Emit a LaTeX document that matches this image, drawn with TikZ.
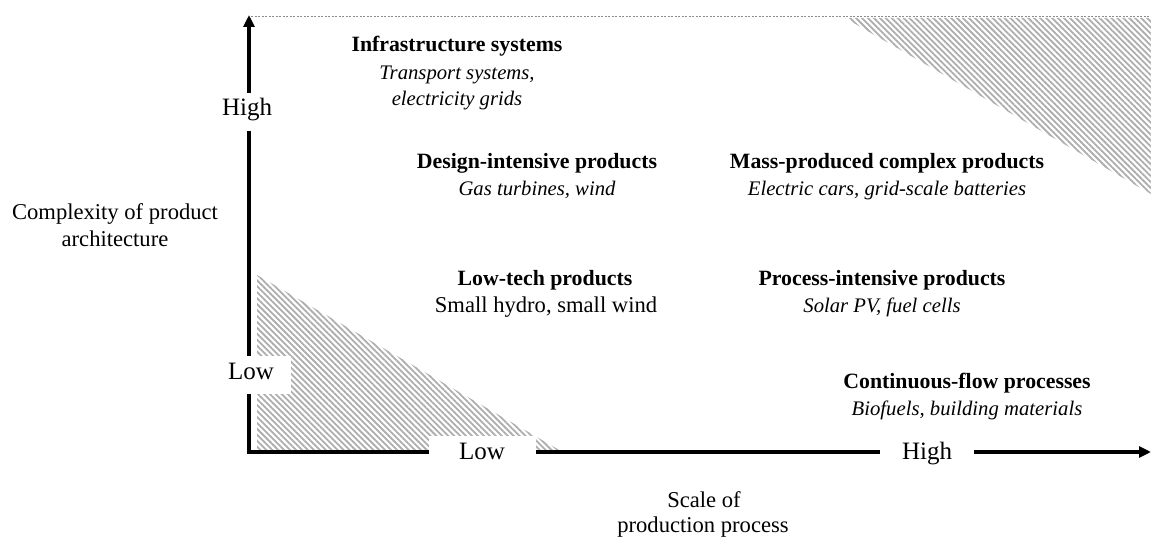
\documentclass[tikz,border=0pt]{standalone}
\usepackage{fontspec}
\setmainfont{Liberation Serif}
\usetikzlibrary{patterns.meta,arrows.meta}
\begin{document}
\begin{tikzpicture}[x=1pt,y=-1pt,
  hatch/.style={pattern={Lines[angle=-45,distance=4.2pt,line width=1.8pt]},pattern color=black!32},
  axis/.style={line width=4pt,line join=miter,{Triangle[length=12pt,width=11pt]}-{Triangle[length=12pt,width=11pt]}},
  axlab/.style={anchor=base,fill=white,font=\fontsize{25}{28}\selectfont,inner xsep=0pt,inner ysep=0pt,text height=23pt,text depth=15pt},
  ttl/.style={anchor=base,font=\fontsize{22.6}{27}\selectfont},
  head/.style={anchor=base,font=\bfseries\fontsize{21.8}{27}\selectfont},
  ex/.style={anchor=base,font=\itshape\fontsize{20.7}{27}\selectfont},
  plain/.style={anchor=base,font=\fontsize{22.6}{27}\selectfont},
]
\useasboundingbox (0,0) rectangle (1151,540);
% hatched regions
\fill[hatch] (845,18) -- (1151,18) -- (1151,194) -- cycle;
\fill[hatch] (257,275) -- (257,451) -- (561,451) -- cycle;
% top dashed boundary
\coordinate (dl) at (251,16);
\coordinate (dr) at (1151,16);
\draw[black!45,line width=0.8pt,dash pattern=on 2pt off 1.5pt] (dl) -- (dr);
% axes
\coordinate (O) at (249,452);
\coordinate (ytop) at (249,15);
\coordinate (xend) at (1151,452);
\draw[axis] (ytop) -- (O) -- (xend);
% axis value labels
\node[axlab,minimum width=62pt] (yhigh) at (247,116) {High};
\node[axlab,minimum width=80pt] (ylow) at (251,379) {Low};
\node[axlab,minimum width=107pt] (xlow) at (482,459) {Low};
\node[axlab,minimum width=94pt] (xhigh) at (927,459) {High};
% axis titles
\node[ttl] (yt1) at (115,219) {Complexity of product};
\node[ttl] (yt2) at (115,247) {architecture};
\node[ttl] (xt1) at (704,507) {Scale of};
\node[ttl] (xt2) at (703,532) {production process};
% categories
\node[head] (infra)   at (457,52)  {Infrastructure systems};
\node[ex]   (infra1)  at (457,80)  {Transport systems,};
\node[ex]   (infra2)  at (457,106) {electricity grids};
\node[head] (design)  at (537,169) {Design-intensive products};
\node[ex]   (design1) at (537,196) {Gas turbines, wind};
\node[head] (mass)    at (887,169) {Mass-produced complex products};
\node[ex]   (mass1)   at (887,196) {Electric cars, grid-scale batteries};
\node[head] (low)     at (545,285) {Low-tech products};
\node[plain](low1)    at (546,312) {Small hydro, small wind};
\node[head] (proc)    at (882,285) {Process-intensive products};
\node[ex]   (proc1)   at (882,312) {Solar PV, fuel cells};
\node[head] (cont)    at (967,388) {Continuous-flow processes};
\node[ex]   (cont1)   at (967,415) {Biofuels, building materials};
\end{tikzpicture}
\end{document}
